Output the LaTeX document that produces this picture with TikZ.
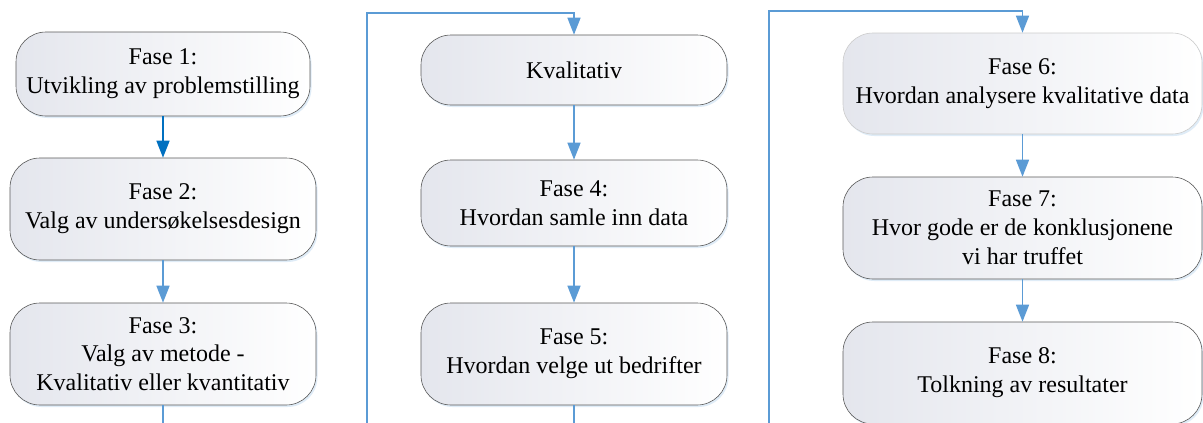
\documentclass[tikz,border=0pt]{standalone}
\usepackage{fontspec}
\setmainfont{Liberation Serif}
\newfontfamily\phasefont{Liberation Serif}
\usetikzlibrary{arrows.meta,shadows,calc}
\definecolor{flowblue}{RGB}{91,155,213}
\definecolor{darkflow}{RGB}{0,112,192}
\definecolor{boxedge}{RGB}{90,90,90}
\definecolor{boxtint}{RGB}{228,230,237}
\definecolor{glow}{RGB}{210,228,245}
\tikzset{
  phase/.style={rectangle, rounded corners=30pt, draw=boxedge, line width=0.6pt,
    left color=boxtint, right color=white,
    align=center, inner sep=0pt,
    font=\phasefont\fontsize{24}{28.8}\selectfont,
    drop shadow={shadow xshift=1.5pt, shadow yshift=-2pt, fill=glow, opacity=0.7}},
  link/.style={draw=flowblue, line width=1.5pt, -{Triangle[width=13pt,length=17pt]}},
  trail/.style={draw=flowblue, line width=1.5pt}
}
\begin{document}
\begin{tikzpicture}[x=1pt,y=-1pt]
\useasboundingbox (0,0) rectangle (1203,423);
\fill[white] (0,0) rectangle (1203,423);

% first column
\node[phase, minimum width=294pt, minimum height=84pt] (b1) at (163,74)
  {Fase 1:\\Utvikling av problemstilling};
\node[phase, minimum width=306pt, minimum height=102pt] (b2) at (163,209)
  {Fase 2:\\Valg av undersøkelsesdesign};
\node[phase, minimum width=306pt, minimum height=102pt] (b3) at (163,354)
  {Fase 3:\\Valg av metode -\\Kvalitativ eller kvantitativ};

% second column
\node[phase, minimum width=306pt, minimum height=70pt] (k) at (574,70)
  {Kvalitativ};
\node[phase, minimum width=306pt, minimum height=86pt] (b4) at (574,203)
  {Fase 4:\\Hvordan samle inn data};
\node[phase, minimum width=306pt, minimum height=102pt] (b5) at (574,354)
  {Fase 5:\\Hvordan velge ut bedrifter};

% third column
\node[phase, draw=black!20, minimum width=359pt, minimum height=101pt] (b6) at (1022.5,83.5)
  {Fase 6:\\Hvordan analysere kvalitative data};
\node[phase, minimum width=359pt, minimum height=102pt] (b7) at (1022.5,228)
  {Fase 7:\\Hvor gode er de konklusjonene\\vi har truffet};
\node[phase, minimum width=359pt, minimum height=102pt] (b8) at (1022.5,373)
  {Fase 8:\\Tolkning av resultater};

% continuation points at the page edges
\coordinate (out1) at (163,425);
\coordinate (in2) at (367,425);
\coordinate (top2) at (574,13);
\coordinate (out2) at (574,425);
\coordinate (in3) at (769,425);
\coordinate (top3) at (1022.5,11);

% connectors
\draw[link, draw=darkflow, fill=darkflow] (b1) -- (b2);
\draw[link] (b2) -- (b3);
\draw[trail] (b3) -- (out1);
\draw[link] (in2) |- (top2) -- (k);
\draw[link] (k) -- (b4);
\draw[link] (b4) -- (b5);
\draw[trail] (b5) -- (out2);
\draw[link] (in3) |- (top3) -- (b6);
\draw[link] (b6) -- (b7);
\draw[link] (b7) -- (b8);
\end{tikzpicture}
\end{document}
